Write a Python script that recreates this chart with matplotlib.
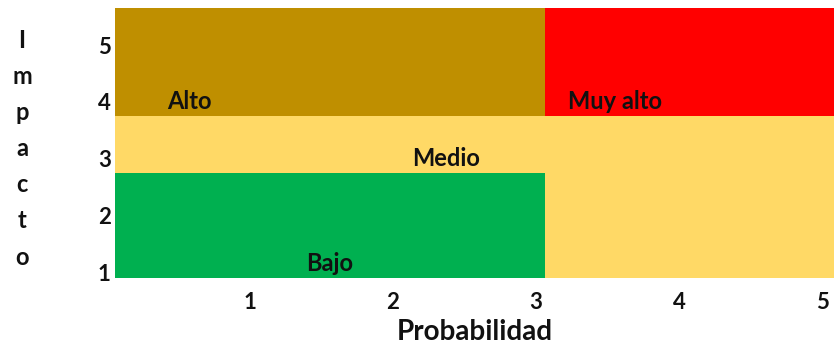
import matplotlib
matplotlib.use("Agg")
import matplotlib.pyplot as plt
from matplotlib.patches import Rectangle

plt.rcParams['font.family'] = ['Lato', 'DejaVu Sans']

# Data
prob_ticks = [1, 2, 3, 4, 5]
impact_ticks = [1, 2, 3, 4, 5]
x_label = "Probabilidad"
y_label = "Impacto"
# zones: name, x0, x1, y0, y1, color, label position (x, y)
zone_names = ["Medio", "Alto", "Muy alto", "Bajo"]
zone_x0 = [0.06, 0.06, 3.06, 0.06]
zone_x1 = [5.08, 3.06, 5.08, 3.06]
zone_y0 = [0.91, 3.75, 3.75, 0.91]
zone_y1 = [5.65, 5.65, 5.65, 2.75]
zone_colors = ["#FFD966", "#BF8F00", "#FF0000", "#00B050"]
label_x = [2.37, 0.58, 3.55, 1.56]
label_y = [3.0, 4.0, 4.0, 1.16]

fig = plt.figure(figsize=(8.34, 3.48), dpi=100)
ax = fig.add_axes([115/834, 70/348, 719/834, 270/348])
ax.set_xlim(0.06, 5.08)
ax.set_ylim(0.91, 5.65)

for name, x0, x1, y0, y1, c, lx, ly in zip(zone_names, zone_x0, zone_x1, zone_y0, zone_y1,
                                           zone_colors, label_x, label_y):
    ax.add_patch(Rectangle((x0, y0), x1 - x0, y1 - y0, facecolor=c, edgecolor='none'))
    ax.text(lx, ly, name, ha='center', va='center', fontsize=17, fontweight='bold', color='#111111')

for s in ax.spines.values():
    s.set_visible(False)
ax.set_xticks(prob_ticks)
ax.set_yticks(impact_ticks)
ax.tick_params(length=0, labelsize=16)
for t in ax.get_xticklabels() + ax.get_yticklabels():
    t.set_fontweight('bold')
    t.set_color('#111111')
ax.tick_params(axis='x', pad=10)
ax.tick_params(axis='y', pad=3)

fig.text(475/834, 1 - 332/348, x_label, ha='center', va='center',
         fontsize=20, fontweight='bold', color='#111111')

# vertical stacked y label
for i, ch in enumerate(y_label):
    fig.text(22/834, 1 - (40 + 36.2 * i) / 348, ch, ha='center', va='center',
             fontsize=17, fontweight='bold', color='#111111')

fig.savefig("out.png", dpi=100)
